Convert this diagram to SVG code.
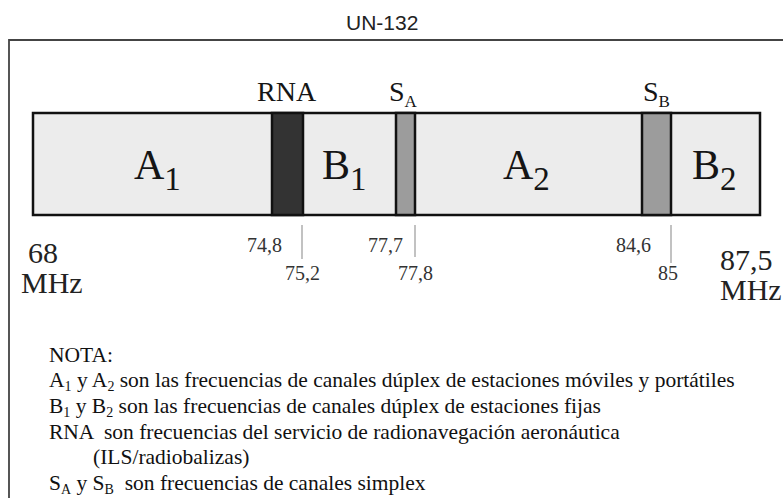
<svg xmlns="http://www.w3.org/2000/svg" width="783" height="498" viewBox="0 0 783 498">
<style>
.serif{font-family:"Liberation Serif","Times New Roman",serif;fill:#151515}
.band{font-size:42px}
.sub{font-size:33px}
.top{font-size:28px}
.tsub{font-size:17px}
.num{font-size:20px;fill:#333}
.big{font-size:30px;fill:#222}
.note{font-size:21.5px;fill:#111}
.nsub{font-size:14px}
.seg{stroke:#111;stroke-width:2.5}
.tick{stroke:#999;stroke-width:1.2}
</style>
<rect width="783" height="498" fill="#ffffff"/>
<path d="M9,500 V40 H785" fill="none" stroke="#444" stroke-width="1.8"/>
<text x="346" y="30" font-family="Liberation Sans, Arial, sans-serif" font-size="21" fill="#222">UN-132</text>

<g id="bar">
  <rect x="33" y="113" width="727" height="102" fill="#ececec" class="seg"/>
</g>
<g id="A1"><text class="serif band" x="134" y="179">A<tspan class="sub" dy="11">1</tspan></text></g>
<g id="RNA">
  <rect x="272" y="113" width="31" height="102" fill="#333" class="seg"/>
  <text class="serif top" x="257" y="101">RNA</text>
</g>
<g id="B1"><text class="serif band" x="322" y="179">B<tspan class="sub" dy="11">1</tspan></text></g>
<g id="SA">
  <rect x="396" y="113" width="19" height="102" fill="#9c9c9c" class="seg"/>
  <text class="serif top" x="389" y="101">S<tspan class="tsub" dy="6">A</tspan></text>
</g>
<g id="A2"><text class="serif band" x="503" y="179">A<tspan class="sub" dy="11">2</tspan></text></g>
<g id="SB">
  <rect x="642" y="113" width="29" height="102" fill="#9c9c9c" class="seg"/>
  <text class="serif top" x="643" y="101">S<tspan class="tsub" dy="6">B</tspan></text>
</g>
<g id="B2"><text class="serif band" x="692" y="179">B<tspan class="sub" dy="11">2</tspan></text></g>

<g id="ticks">
  <line class="tick" x1="302" y1="225" x2="302" y2="259"/>
  <line class="tick" x1="415" y1="225" x2="415" y2="257"/>
  <line class="tick" x1="671" y1="225" x2="671" y2="263"/>
</g>
<g id="scale">
  <text class="serif big" x="28" y="263">68</text>
  <text class="serif big" x="21" y="293">MHz</text>
  <text class="serif num" x="247" y="252">74,8</text>
  <text class="serif num" x="285" y="280">75,2</text>
  <text class="serif num" x="368" y="252">77,7</text>
  <text class="serif num" x="398" y="280">77,8</text>
  <text class="serif num" x="616" y="252">84,6</text>
  <text class="serif num" x="658" y="280">85</text>
  <text class="serif big" x="720" y="270">87,5</text>
  <text class="serif big" x="720" y="300">MHz</text>
</g>
<g id="notes">
  <text class="serif note" x="49" y="362">NOTA:</text>
  <text class="serif note" x="49" y="387">A<tspan class="nsub" dy="4">1</tspan><tspan dy="-4"> y A</tspan><tspan class="nsub" dy="4">2</tspan><tspan dy="-4"> son las frecuencias de canales dúplex de estaciones móviles y portátiles</tspan></text>
  <text class="serif note" x="49" y="413">B<tspan class="nsub" dy="4">1</tspan><tspan dy="-4"> y B</tspan><tspan class="nsub" dy="4">2</tspan><tspan dy="-4"> son las frecuencias de canales dúplex de estaciones fijas</tspan></text>
  <text class="serif note" x="49" y="439" xml:space="preserve">RNA  son frecuencias del servicio de radionavegación aeronáutica</text>
  <text class="serif note" x="93" y="464">(ILS/radiobalizas)</text>
  <text class="serif note" x="49" y="490" xml:space="preserve">S<tspan class="nsub" dy="4">A</tspan><tspan dy="-4"> y S</tspan><tspan class="nsub" dy="4">B</tspan><tspan dy="-4">  son frecuencias de canales simplex</tspan></text>
</g>
</svg>
